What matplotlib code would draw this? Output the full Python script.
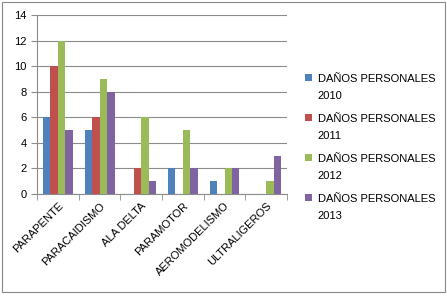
import matplotlib
import matplotlib.pyplot as plt
import numpy as np
from matplotlib.container import BarContainer
from matplotlib.legend_handler import HandlerPatch, update_from_first_child
from matplotlib.patches import Rectangle

matplotlib.use('Agg')

categorias = ['PARAPENTE', 'PARACAIDISMO', 'ALA DELTA', 'PARAMOTOR', 'AEROMODELISMO', 'ULTRALIGEROS']
series = ['DAÑOS PERSONALES\n2010', 'DAÑOS PERSONALES\n2011', 'DAÑOS PERSONALES\n2012', 'DAÑOS PERSONALES\n2013']
valores_2010 = [6, 5, 0, 2, 1, 0]
valores_2011 = [10, 6, 2, 0, 0, 0]
valores_2012 = [12, 9, 6, 5, 2, 1]
valores_2013 = [5, 8, 1, 2, 2, 3]
colores = ['#4F81BD', '#C0504D', '#9BBB59', '#8064A2']

plt.rcParams['font.family'] = ['Liberation Sans', 'DejaVu Sans']


# cuadrado de la leyenda alineado con la primera línea del texto
def cuadrado(legend, orig_handle, xdescent, ydescent, width, height, fontsize):
    s = 5.2
    return Rectangle((-xdescent, -ydescent + height - s + 3.5), s, s)


fig = plt.figure(figsize=(4.47, 2.96), dpi=100)
# Marco exterior
fig.patches.append(plt.Rectangle((0.005, 0.012), 0.99, 0.98, transform=fig.transFigure,
                                 fill=False, edgecolor='#888888', linewidth=0.8))
ax = fig.add_axes([0.083, 0.345, 0.559, 0.604])

x = np.arange(len(categorias))
ancho = 0.18
datos = [valores_2010, valores_2011, valores_2012, valores_2013]
for i, (vals, nombre, c) in enumerate(zip(datos, series, colores)):
    ax.bar(x + (i - 1.5) * ancho, vals, width=ancho, color=c, label=nombre, zorder=3)

ax.set_xlim(-0.5, len(categorias) - 0.5)
ax.set_ylim(0, 14)
ax.set_yticks(range(0, 15, 2))
ax.grid(axis='y', color='#8c8c8c', linewidth=0.8, zorder=0)

for s in ['top', 'right']:
    ax.spines[s].set_visible(False)
ax.spines['left'].set_color('#8c8c8c')
ax.spines['bottom'].set_color('#8c8c8c')

ax.set_xticks(x)
ax.set_xticklabels(categorias, rotation=45, ha='right', rotation_mode='anchor', fontsize=8)
ax.tick_params(axis='x', length=0, pad=5)
ax.set_xticks(np.arange(-0.5, len(categorias), 1), minor=True)
ax.tick_params(axis='x', which='minor', length=4, color='#8c8c8c')
ax.tick_params(axis='y', length=4, color='#8c8c8c', labelsize=8)

leg = ax.legend(loc='upper left', bbox_to_anchor=(1.05, 0.70), frameon=False, fontsize=8,
                borderpad=0, handlelength=0.8, handleheight=2.2, handletextpad=0.35,
                labelspacing=1.15,
                handler_map={BarContainer: HandlerPatch(patch_func=cuadrado,
                                                        update_func=update_from_first_child)})
for t in leg.get_texts():
    t.set_linespacing(1.9)

plt.savefig('out.png', dpi=100)
